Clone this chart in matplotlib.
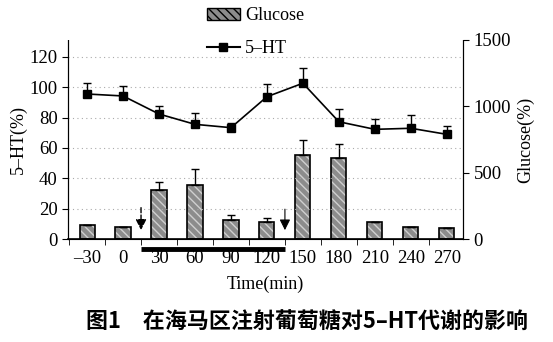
import matplotlib
matplotlib.use('Agg')
import matplotlib.pyplot as plt
from matplotlib.lines import Line2D
from matplotlib.patches import Patch

plt.rcParams['font.family'] = ['Liberation Serif', 'Noto Sans CJK SC']
plt.rcParams['axes.unicode_minus'] = False

# time points (min)
times = ['–30', '0', '30', '60', '90', '120', '150', '180', '210', '240', '270']

# glucose (%), mean and error
glucose = [105, 93, 370, 407, 143, 130, 633, 610, 128, 93, 85]
glucose_err = [0, 0, 60, 121, 38, 28, 113, 106, 0, 0, 0]

# 5-HT (%), mean and error
ht = [95.6, 94.3, 82.4, 75.6, 73.4, 93.8, 102.7, 77.3, 72.3, 73.0, 69.0]
ht_err = [7.4, 6.7, 5.3, 7.4, 2.9, 8.2, 10.3, 8.2, 6.7, 8.8, 5.6]

W, H = 553, 342
fig = plt.figure(figsize=(W / 100, H / 100), dpi=100)
ax = fig.add_axes([68 / W, (H - 239) / H, (463 - 68) / W, (239 - 40) / H])
ax2 = ax.twinx()

x = list(range(len(times)))

# bars on right axis
ax2.bar(x, glucose, width=0.42, color='#8c8c8c', edgecolor='#cfcfcf',
        hatch='\\\\\\\\', linewidth=0, zorder=2)
ax2.bar(x, glucose, width=0.42, fill=False, edgecolor='black',
        linewidth=1.2, zorder=3)
ax2.errorbar(x, glucose, yerr=[[0] * len(x), glucose_err], fmt='none',
             ecolor='black', elinewidth=1, capsize=3, zorder=3)
ax2.set_ylim(0, 1500)
ax2.set_yticks([0, 500, 1000, 1500])
ax2.set_ylabel('Glucose(%)', fontsize=13, labelpad=4)

# 5-HT line on left axis, drawn above the bars
ax.set_zorder(ax2.get_zorder() + 1)
ax.patch.set_visible(False)
ax.errorbar(x, ht, yerr=[[0] * len(x), ht_err], fmt='s-', color='black',
            markersize=6, linewidth=1.2, elinewidth=1, capsize=3, zorder=4)
ax.set_ylim(0, 131.2)
ax.set_yticks([0, 20, 40, 60, 80, 100, 120])
ax.set_ylabel('5–HT(%)', fontsize=13, labelpad=2)
for yv in [20, 40, 60, 80, 100, 120]:
    ax.axhline(yv, color='#aaaaaa', linestyle=(0, (1, 3)), linewidth=0.8, zorder=0)

ax.set_xlim(-0.53, 10.45)
ax.set_xticks(x)
ax.set_xticklabels(times)
ax.set_xticks([i + 0.5 for i in range(-1, 10)], minor=True)
ax.tick_params(axis='x', which='major', length=0, pad=8, labelsize=13.5)
ax.tick_params(axis='x', which='minor', length=4, direction='out')
ax.tick_params(axis='y', labelsize=13.5, length=4)
ax2.tick_params(axis='y', labelsize=13.5, length=4)
ax.set_xlabel('Time(min)', fontsize=13, labelpad=6)

for a in (ax, ax2):
    a.spines['top'].set_visible(False)
    a.spines['left'].set_linestyle((0, (3, 1)))
    a.spines['right'].set_linestyle((0, (3, 1)))
ax.spines['bottom'].set_linewidth(1.2)

# glucose injection markers
ax.annotate('', xy=(1.5, 4.0), xytext=(1.5, 22.5),
            arrowprops=dict(arrowstyle='-|>', color='black', lw=1, linestyle='--',
                            mutation_scale=16), zorder=5)
ax.annotate('', xy=(5.5, 4.0), xytext=(5.5, 21.5),
            arrowprops=dict(arrowstyle='-|>', color='black', lw=0.8,
                            mutation_scale=16), zorder=5)
ax.plot([1.5, 5.5], [-6.6, -6.6], color='black', linewidth=3.5,
        clip_on=False, solid_capstyle='butt')

handles = [Patch(facecolor='#8c8c8c', edgecolor='black', hatch='\\\\\\\\'),
           Line2D([], [], color='black', marker='s', markersize=6)]
fig.legend(handles, ['Glucose', '5–HT'], loc='upper left',
           bbox_to_anchor=(200 / W, 1.0), frameon=False, fontsize=13,
           labelspacing=0.9, handlelength=1.8, handletextpad=0.3,
           borderaxespad=0)

fig.text(0.555, (H - 322) / H, '图1\u3000在海马区注射葡萄糖对5–HT代谢的影响',
         ha='center', va='center', fontsize=15.8, fontweight='bold',
         family=['Noto Sans CJK SC', 'DejaVu Sans'])

fig.savefig('out.png', dpi=100)
